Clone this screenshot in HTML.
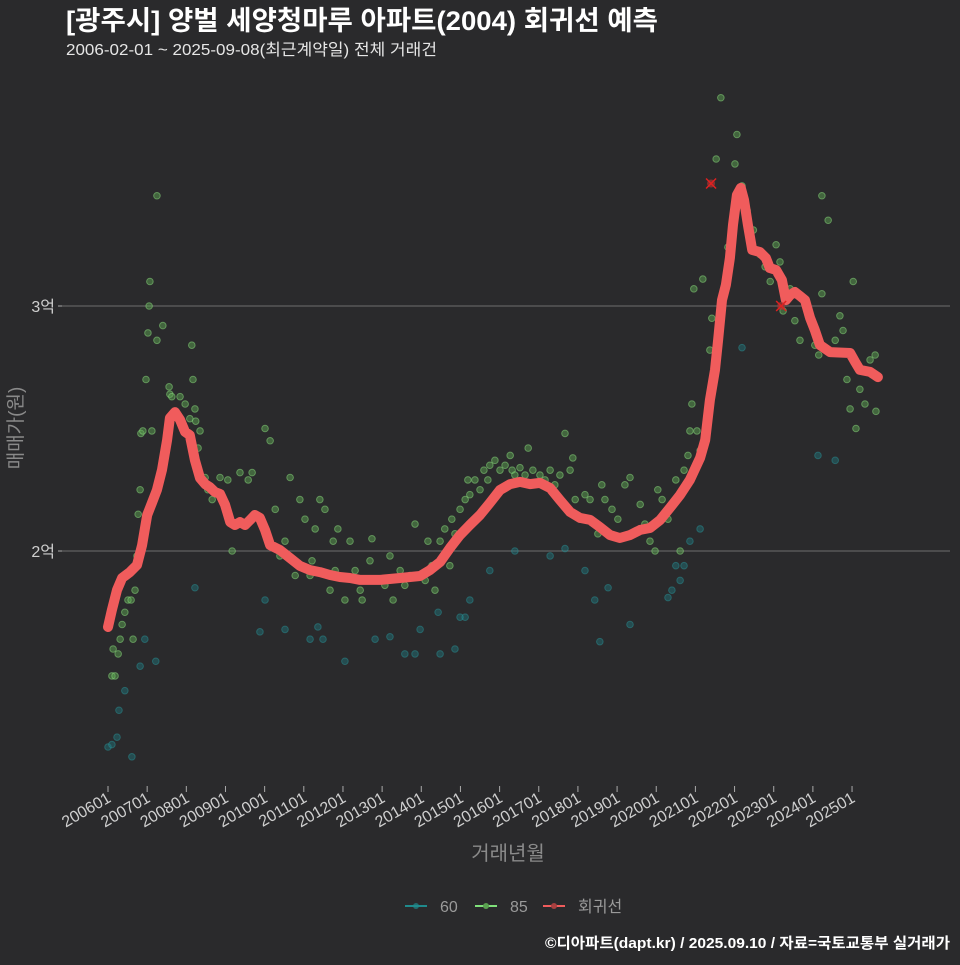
<!DOCTYPE html>
<html><head><meta charset="utf-8">
<style>
html,body{margin:0;padding:0;background:#2a2a2c;}
body{width:960px;height:960px;overflow:hidden;font-family:"Liberation Sans","Noto Sans CJK KR",sans-serif;}
svg text{font-family:"Liberation Sans","Noto Sans CJK KR",sans-serif;}
</style></head>
<body>
<svg id="chart" width="960" height="960" xmlns="http://www.w3.org/2000/svg">
<rect width="960" height="960" fill="#2a2a2c"/>
<text x="66" y="30" fill="#ffffff" font-size="27" font-weight="bold" textLength="592" lengthAdjust="spacingAndGlyphs">[광주시] 양벌 세양청마루 아파트(2004) 회귀선 예측</text>
<text x="66" y="55" fill="#e6e6e6" font-size="16" textLength="371" lengthAdjust="spacingAndGlyphs">2006-02-01 ~ 2025-09-08(최근계약일) 전체 거래건</text>
<g id="grid"></g>
<g id="pts"></g>
<g id="line"></g>
<g id="xaxis"></g>
<text transform="translate(22,428) rotate(-90)" text-anchor="middle" fill="#8a8a8a" font-size="19">매매가(원)</text>
<text x="508" y="860" text-anchor="middle" fill="#8a8a8a" font-size="20">거래년월</text>
<g>
 <g><line x1="405" y1="906" x2="427" y2="906" stroke="#1f8a8c" stroke-width="2"/><circle cx="416" cy="906" r="3" fill="#1f8a8c" opacity="0.7"/><text x="440" y="912" fill="#9a9a9a" font-size="16">60</text></g>
 <g><line x1="475" y1="906" x2="497" y2="906" stroke="#7fe07a" stroke-width="2"/><circle cx="486" cy="906" r="3" fill="#5aa050"/><text x="510" y="912" fill="#9a9a9a" font-size="16">85</text></g>
 <g><line x1="543" y1="906" x2="565" y2="906" stroke="#f05c5c" stroke-width="2"/><circle cx="554" cy="906" r="3" fill="#a84040"/><text x="578" y="912" fill="#9a9a9a" font-size="16">회귀선</text></g>
</g>
<text x="950" y="948" text-anchor="end" fill="#ffffff" font-size="15" font-weight="bold" textLength="405" lengthAdjust="spacingAndGlyphs">©디아파트(dapt.kr) / 2025.09.10 / 자료=국토교통부 실거래가</text>
</svg>
<script>
const lineT=[2006.0,2006.10,2006.23,2006.36,2006.56,2006.74,2006.87,2007.00,2007.12,2007.25,2007.38,2007.51,2007.58,2007.71,2007.84,2007.97,2008.09,2008.22,2008.35,2008.48,2008.60,2008.73,2008.86,2008.99,2009.12,2009.24,2009.37,2009.50,2009.63,2009.75,2009.88,2010.01,2010.14,2010.39,2010.65,2010.90,2011.16,2011.41,2011.67,2011.92,2012.18,2012.44,2012.95,2013.46,2013.97,2014.22,2014.48,2014.73,2014.99,2015.24,2015.50,2015.75,2016.01,2016.27,2016.52,2016.78,2017.03,2017.29,2017.54,2017.80,2018.05,2018.31,2018.56,2018.82,2019.07,2019.33,2019.59,2019.84,2020.10,2020.35,2020.61,2020.86,2021.12,2021.25,2021.37,2021.50,2021.58,2021.68,2021.78,2021.88,2021.96,2022.06,2022.16,2022.24,2022.34,2022.45,2022.65,2022.80,2022.90,2023.06,2023.21,2023.31,2023.42,2023.54,2023.67,2023.80,2023.93,2024.05,2024.18,2024.44,2024.95,2025.08,2025.20,2025.46,2025.66];
const lineV=[1.690,1.759,1.841,1.890,1.914,1.943,2.024,2.147,2.196,2.249,2.331,2.453,2.543,2.567,2.535,2.486,2.473,2.371,2.298,2.273,2.261,2.241,2.233,2.188,2.118,2.106,2.118,2.106,2.127,2.147,2.135,2.086,2.024,2.004,1.971,1.939,1.922,1.914,1.902,1.894,1.890,1.882,1.882,1.890,1.898,1.922,1.955,2.012,2.065,2.106,2.147,2.196,2.249,2.273,2.282,2.273,2.278,2.257,2.208,2.159,2.135,2.127,2.098,2.065,2.053,2.065,2.086,2.094,2.127,2.176,2.229,2.290,2.380,2.453,2.616,2.739,2.861,3.024,3.086,3.196,3.331,3.453,3.482,3.433,3.331,3.229,3.220,3.196,3.155,3.147,3.106,3.024,3.045,3.057,3.041,3.024,2.951,2.902,2.841,2.812,2.808,2.771,2.739,2.731,2.710];
const g85T=[2006.10,2006.18,2006.13,2006.26,2006.31,2006.36,2006.43,2006.51,2006.59,2006.64,2006.69,2006.74,2006.77,2006.82,2006.84,2006.89,2006.97,2007.02,2007.05,2007.07,2007.12,2007.25,2007.25,2007.40,2007.56,2007.58,2007.63,2007.84,2007.97,2008.09,2008.14,2008.17,2008.22,2008.24,2008.30,2008.35,2008.48,2008.55,2008.66,2008.86,2009.06,2009.17,2009.37,2009.58,2009.68,2009.88,2010.01,2010.14,2010.27,2010.39,2010.52,2010.65,2010.78,2010.90,2011.03,2011.16,2011.21,2011.29,2011.41,2011.54,2011.67,2011.75,2011.80,2011.87,2012.05,2012.18,2012.31,2012.44,2012.49,2012.69,2012.74,2012.90,2013.07,2013.20,2013.28,2013.46,2013.58,2013.71,2013.84,2013.97,2014.10,2014.17,2014.27,2014.35,2014.48,2014.60,2014.73,2014.78,2014.86,2014.99,2015.12,2015.19,2015.24,2015.37,2015.50,2015.60,2015.70,2015.75,2015.88,2016.01,2016.14,2016.27,2016.32,2016.39,2016.52,2016.65,2016.73,2016.85,2017.03,2017.16,2017.29,2017.41,2017.54,2017.67,2017.80,2017.87,2017.93,2018.05,2018.18,2018.31,2018.51,2018.61,2018.69,2018.87,2019.02,2019.20,2019.33,2019.59,2019.71,2019.84,2019.97,2020.04,2020.15,2020.30,2020.40,2020.50,2020.61,2020.71,2020.81,2020.86,2020.91,2020.96,2021.04,2021.12,2021.19,2021.37,2021.42,2021.53,2021.65,2021.83,2022.01,2022.06,2022.19,2022.32,2022.48,2022.65,2022.78,2022.91,2023.06,2023.16,2023.24,2023.42,2023.54,2023.67,2023.88,2024.05,2024.15,2024.23,2024.23,2024.39,2024.57,2024.69,2024.77,2024.87,2024.95,2025.03,2025.10,2025.20,2025.33,2025.46,2025.51,2025.59,2025.61];
const g85V=[1.49,1.49,1.60,1.58,1.64,1.70,1.75,1.80,1.80,1.64,1.84,1.98,2.15,2.25,2.48,2.49,2.70,2.89,3.00,3.10,2.49,3.45,2.86,2.92,2.67,2.64,2.63,2.63,2.60,2.54,2.84,2.70,2.58,2.53,2.42,2.49,2.30,2.25,2.21,2.30,2.29,2.00,2.32,2.29,2.32,2.13,2.50,2.45,2.17,1.98,2.04,2.30,1.90,2.21,2.13,1.90,1.96,2.09,2.21,2.17,1.84,2.04,1.92,2.09,1.80,2.04,1.92,1.84,1.80,1.96,2.05,1.88,1.86,1.98,1.80,1.92,1.86,1.90,2.11,1.90,1.88,2.04,1.94,1.84,2.04,2.09,1.94,2.13,2.07,2.17,2.21,2.29,2.23,2.29,2.25,2.33,2.29,2.35,2.37,2.33,2.35,2.39,2.33,2.31,2.34,2.31,2.42,2.33,2.31,2.29,2.33,2.27,2.31,2.48,2.33,2.38,2.21,2.13,2.23,2.21,2.07,2.27,2.21,2.17,2.13,2.27,2.30,2.19,2.11,2.04,2.00,2.25,2.21,2.13,2.19,2.29,2.00,2.33,2.39,2.49,2.60,3.07,2.49,2.41,3.11,2.82,2.95,3.60,3.85,3.24,3.58,3.70,3.49,3.39,3.31,3.21,3.16,3.10,3.25,3.18,2.98,3.07,2.94,2.86,2.96,2.84,2.80,3.05,3.45,3.35,2.86,2.96,2.90,2.70,2.58,3.10,2.50,2.66,2.60,2.78,2.72,2.80,2.57];
const g60T=[2006.00,2006.10,2006.23,2006.28,2006.43,2006.61,2006.82,2006.94,2007.22,2008.22,2009.88,2010.01,2010.52,2011.16,2011.36,2011.49,2012.05,2012.82,2013.20,2013.58,2013.84,2013.97,2014.43,2014.48,2014.86,2014.99,2015.12,2015.24,2015.75,2016.39,2017.29,2017.67,2018.18,2018.43,2018.56,2018.77,2019.33,2020.30,2020.40,2020.50,2020.61,2020.71,2020.86,2021.12,2022.19,2024.13,2024.57];
const g60V=[1.20,1.21,1.24,1.35,1.43,1.16,1.53,1.64,1.55,1.85,1.67,1.80,1.68,1.64,1.69,1.64,1.55,1.64,1.65,1.58,1.58,1.68,1.75,1.58,1.60,1.73,1.73,1.80,1.92,2.00,1.98,2.01,1.92,1.80,1.63,1.85,1.70,1.81,1.84,1.94,1.88,1.94,2.04,2.09,2.83,2.39,2.37];
const cancelT=[2021.40,2023.19];
const cancelV=[3.50,3.00];
const yTicks=[2,3];
const yTickLabels=["2억","3억"];
const xTickYears=[2006,2007,2008,2009,2010,2011,2012,2013,2014,2015,2016,2017,2018,2019,2020,2021,2022,2023,2024,2025];

const NS="http://www.w3.org/2000/svg";
function X(t){return 108+(t-2006)*39.16;}
function Y(v){return 551-(v-2)*245;}
function mk(tag,attrs,parent){const e=document.createElementNS(NS,tag);for(const k in attrs)e.setAttribute(k,attrs[k]);parent.appendChild(e);return e;}
const grid=document.getElementById('grid');
yTicks.forEach((v,i)=>{
  const l=mk('line',{x1:62,x2:950,y1:Y(v),y2:Y(v),stroke:'#6e6e6e','stroke-width':1},grid);
  
  
  const tk=mk('line',{x1:58,x2:62,y1:Y(v),y2:Y(v),stroke:'#aaa','stroke-width':1},grid);
  
  
  const t=mk('text',{x:55,y:Y(v)+6,'text-anchor':'end',fill:'#cfcfcf','font-size':16},grid);
  t.textContent=yTickLabels[i];
  
  
});
const xa=document.getElementById('xaxis');
xTickYears.forEach(yr=>{
  const x=X(yr);
  const tk=mk('line',{x1:x,x2:x,y1:786,y2:792,stroke:'#aaa','stroke-width':1},xa);
  
  
  const t=mk('text',{x:x+4,y:801,'text-anchor':'end',fill:'#cfcfcf','font-size':16,transform:`rotate(-30 ${x+4} 801)`},xa);
  t.textContent=yr+"01";
  
  
});
const pts=document.getElementById('pts');
g60T.forEach((t,i)=>{
  const c=mk('circle',{cx:X(t),cy:Y(g60V[i]),r:3.3,fill:'#1f7f86','fill-opacity':0.4,stroke:'#2a9a9e','stroke-opacity':0.45,'stroke-width':1},pts);
  
  
});
g85T.forEach((t,i)=>{
  const c=mk('circle',{cx:X(t),cy:Y(g85V[i]),r:3.3,fill:'#5fae55','fill-opacity':0.45,stroke:'#8ee07f','stroke-opacity':0.5,'stroke-width':1},pts);
  
  
});
const ln=document.getElementById('line');
let d='';lineT.forEach((t,i)=>{d+=(i?'L':'M')+X(t).toFixed(1)+','+Y(lineV[i]).toFixed(1);});
const p=mk('path',{d:d,fill:'none',stroke:'#f05c5c','stroke-width':10,'stroke-linejoin':'round','stroke-linecap':'round'},ln);


cancelT.forEach((t,i)=>{
  const x=X(t),y=Y(cancelV[i]);
  const g=mk('g',{},ln);
  
  
  mk('circle',{cx:x,cy:y,r:4,fill:'#b03030','fill-opacity':0.7},g);
  mk('path',{d:`M${x-5},${y-5}L${x+5},${y+5}M${x-5},${y+5}L${x+5},${y-5}`,stroke:'#e02020','stroke-width':1.5},g);
});
</script>
</body></html>
